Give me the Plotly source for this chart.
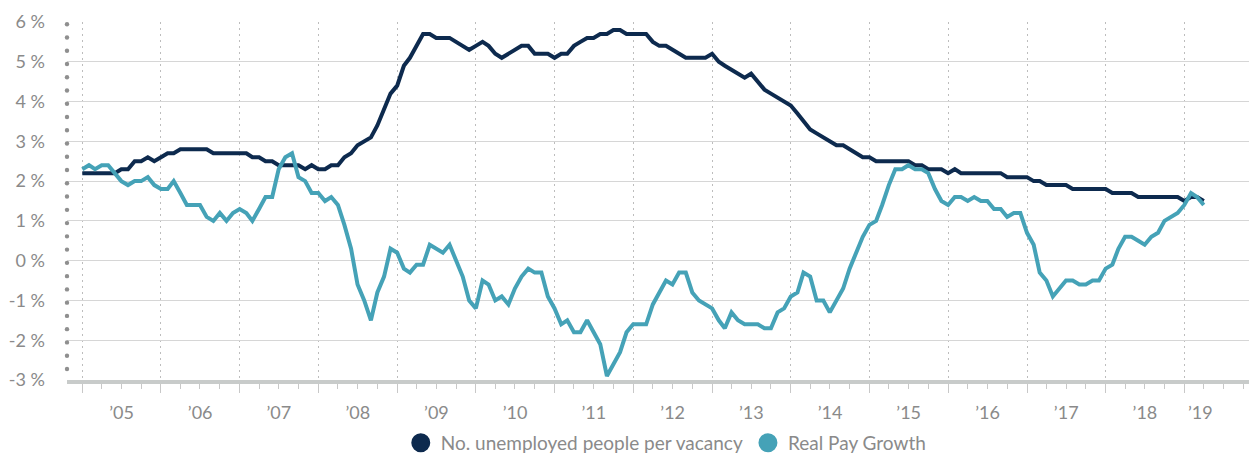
import pandas as pd
import plotly.graph_objects as go

# ---------------- data (monthly, starting Jan 2005) ----------------
START_MONTH = "2005-01-01"

unemployed_per_vacancy = [
    2.2, 2.2, 2.2, 2.2, 2.2, 2.2, 2.3, 2.3, 2.5, 2.5, 2.6, 2.5,
    2.6, 2.7, 2.7, 2.8, 2.8, 2.8, 2.8, 2.8, 2.7, 2.7, 2.7, 2.7,
    2.7, 2.7, 2.6, 2.6, 2.5, 2.5, 2.4, 2.4, 2.4, 2.4, 2.3, 2.4,
    2.3, 2.3, 2.4, 2.4, 2.6, 2.7, 2.9, 3.0, 3.1, 3.4, 3.8, 4.2,
    4.4, 4.9, 5.1, 5.4, 5.7, 5.7, 5.6, 5.6, 5.6, 5.5, 5.4, 5.3,
    5.4, 5.5, 5.4, 5.2, 5.1, 5.2, 5.3, 5.4, 5.4, 5.2, 5.2, 5.2,
    5.1, 5.2, 5.2, 5.4, 5.5, 5.6, 5.6, 5.7, 5.7, 5.8, 5.8, 5.7,
    5.7, 5.7, 5.7, 5.5, 5.4, 5.4, 5.3, 5.2, 5.1, 5.1, 5.1, 5.1,
    5.2, 5.0, 4.9, 4.8, 4.7, 4.6, 4.7, 4.5, 4.3, 4.2, 4.1, 4.0,
    3.9, 3.7, 3.5, 3.3, 3.2, 3.1, 3.0, 2.9, 2.9, 2.8, 2.7, 2.6,
    2.6, 2.5, 2.5, 2.5, 2.5, 2.5, 2.5, 2.4, 2.4, 2.3, 2.3, 2.3,
    2.2, 2.3, 2.2, 2.2, 2.2, 2.2, 2.2, 2.2, 2.2, 2.1, 2.1, 2.1,
    2.1, 2.0, 2.0, 1.9, 1.9, 1.9, 1.9, 1.8, 1.8, 1.8, 1.8, 1.8,
    1.8, 1.7, 1.7, 1.7, 1.7, 1.6, 1.6, 1.6, 1.6, 1.6, 1.6, 1.6,
    1.5, 1.6, 1.6, 1.5,
]

real_pay_growth = [
    2.3, 2.4, 2.3, 2.4, 2.4, 2.2, 2.0, 1.9, 2.0, 2.0, 2.1, 1.9,
    1.8, 1.8, 2.0, 1.7, 1.4, 1.4, 1.4, 1.1, 1.0, 1.2, 1.0, 1.2,
    1.3, 1.2, 1.0, 1.3, 1.6, 1.6, 2.3, 2.6, 2.7, 2.1, 2.0, 1.7,
    1.7, 1.5, 1.6, 1.4, 0.9, 0.3, -0.6, -1.0, -1.5, -0.8, -0.4, 0.3,
    0.2, -0.2, -0.3, -0.1, -0.1, 0.4, 0.3, 0.2, 0.4, 0.0, -0.4, -1.0,
    -1.2, -0.5, -0.6, -1.0, -0.9, -1.1, -0.7, -0.4, -0.2, -0.3, -0.3, -0.9,
    -1.2, -1.6, -1.5, -1.8, -1.8, -1.5, -1.8, -2.1, -2.9, -2.6, -2.3, -1.8,
    -1.6, -1.6, -1.6, -1.1, -0.8, -0.5, -0.6, -0.3, -0.3, -0.8, -1.0, -1.1,
    -1.2, -1.5, -1.7, -1.3, -1.5, -1.6, -1.6, -1.6, -1.7, -1.7, -1.3, -1.2,
    -0.9, -0.8, -0.3, -0.4, -1.0, -1.0, -1.3, -1.0, -0.7, -0.2, 0.2, 0.6,
    0.9, 1.0, 1.4, 1.9, 2.3, 2.3, 2.4, 2.3, 2.3, 2.2, 1.8, 1.5,
    1.4, 1.6, 1.6, 1.5, 1.6, 1.5, 1.5, 1.3, 1.3, 1.1, 1.2, 1.2,
    0.7, 0.4, -0.3, -0.5, -0.9, -0.7, -0.5, -0.5, -0.6, -0.6, -0.5, -0.5,
    -0.2, -0.1, 0.3, 0.6, 0.6, 0.5, 0.4, 0.6, 0.7, 1.0, 1.1, 1.2,
    1.4, 1.7, 1.6, 1.4,
]

SERIES_NAMES = ["No. unemployed people per vacancy", "Real Pay Growth"]

Y_TICKS = [-3, -2, -1, 0, 1, 2, 3, 4, 5, 6]
Y_TICK_TEXT = ["-3 %", "-2 %", "-1 %", "0 %", "1 %", "2 %", "3 %", "4 %", "5 %", "6 %"]

YEARS = list(range(2005, 2020))
YEAR_LABELS = ["’05", "’06", "’07", "’08", "’09", "’10", "’11", "’12",
               "’13", "’14", "’15", "’16", "’17", "’18", "’19"]

# ---------------- styling ----------------
NAVY = "#0d2a4e"
TEAL = "#45a2b7"
GREY_TEXT = "#8a8a8a"
FONT = "Lato"

months = pd.date_range(START_MONTH, periods=len(unemployed_per_vacancy), freq="MS")
X_RANGE = ["2004-10-22", "2019-10-28"]

# year labels sit in the middle of each year (last one nudged left to stay inside)
label_pos = [pd.Timestamp(f"{y}-07-02") for y in YEARS]
label_pos[-1] = pd.Timestamp(f"{YEARS[-1]}-03-16")

fig = go.Figure()
fig.add_trace(go.Scatter(x=months, y=unemployed_per_vacancy, mode="lines",
                         line=dict(color=NAVY, width=4), showlegend=False,
                         name=SERIES_NAMES[0]))
fig.add_trace(go.Scatter(x=months, y=real_pay_growth, mode="lines",
                         line=dict(color=TEAL, width=4), showlegend=False,
                         name=SERIES_NAMES[1]))
# legend entries (circle symbols); placed on the label axis so that axis is drawn
for name, col in zip(SERIES_NAMES, [NAVY, TEAL]):
    fig.add_trace(go.Scatter(x=[None], y=[None], mode="markers", name=name, xaxis="x2",
                             marker=dict(color=col, size=16, line=dict(color=col, width=3))))

# dotted y-axis: a round dot every third of a percent
dot_levels = [Y_TICKS[0] + k / 3 for k in range(3 * (Y_TICKS[-1] - Y_TICKS[0]) + 1)]
dot_shapes = [
    dict(type="circle", xref="paper", yref="y", xsizemode="pixel", ysizemode="pixel",
         xanchor=0, yanchor=lv, x0=-2.2, x1=2.2, y0=-4.4, y1=0,
         fillcolor="#8f8f8f", line=dict(width=0), layer="above")
    for lv in dot_levels
]

fig.update_layout(
    width=1249, height=455,
    margin=dict(l=67, r=0, t=22, b=75),
    plot_bgcolor="white", paper_bgcolor="white",
    font=dict(family=FONT, size=18, color=GREY_TEXT),
    showlegend=True,
    legend=dict(orientation="h", xref="paper", x=0.507, xanchor="center",
                yref="container", y=0.0264, yanchor="middle",
                font=dict(family=FONT, size=19, color=GREY_TEXT), itemsizing="trace"),
    xaxis=dict(
        type="date", range=X_RANGE, automargin=False,
        tickmode="linear", tick0="2005-01-01", dtick="M12",
        showticklabels=False,
        ticks="outside", ticklen=9, tickwidth=1, tickcolor="#c8c8c8",
        showgrid=True, gridcolor="#bdbdbd", gridwidth=1, griddash="2px,4px",
        showline=True, linecolor="#c8cbca", linewidth=4,
        zeroline=False,
        minor=dict(tick0="2005-01-01", dtick="M3", ticks="outside", ticklen=5,
                   tickwidth=1, tickcolor="#c8c8c8", showgrid=False),
    ),
    xaxis2=dict(
        type="date", range=X_RANGE, overlaying="x", anchor="y", side="bottom",
        automargin=False,
        tickmode="array", tickvals=label_pos, ticktext=YEAR_LABELS,
        ticks="", showgrid=False, showline=False, zeroline=False,
        ticklabelstandoff=20,
        tickfont=dict(family=FONT, size=18, color=GREY_TEXT),
    ),
    yaxis=dict(
        range=[-3, 6], tickmode="array", tickvals=Y_TICKS, ticktext=Y_TICK_TEXT,
        automargin=False,
        showgrid=True, gridcolor="#d6d6d6", gridwidth=1,
        zeroline=False, showline=False, ticks="", ticklabelstandoff=21,
        tickfont=dict(family=FONT, size=18, color=GREY_TEXT),
    ),
    shapes=dot_shapes,
)

# remove the browser's default page margin so the figure fills the window exactly
fig.write_html("out.html", config={"displayModeBar": False},
               post_script="document.body.style.margin='0';")
